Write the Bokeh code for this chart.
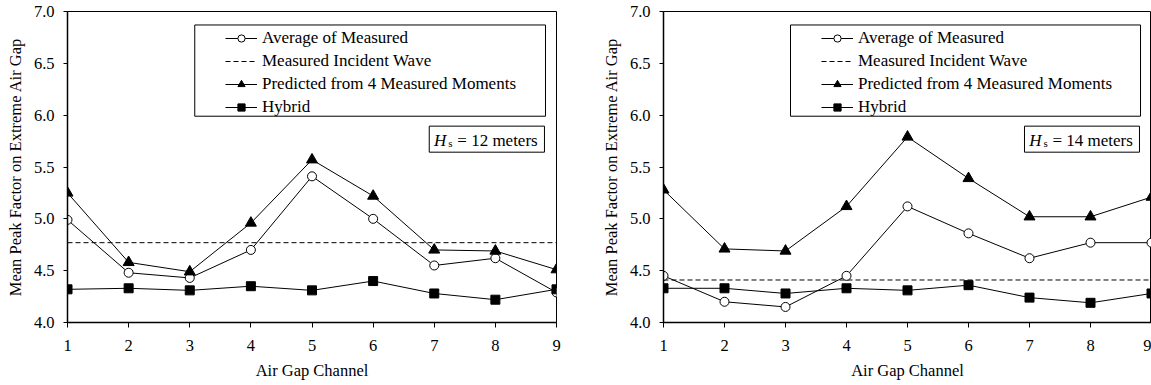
from bokeh.plotting import figure
from bokeh.layouts import row
from bokeh.models import (Legend, LegendItem, BoxAnnotation, Label, FixedTicker,
                          NumeralTickFormatter, Range1d)
from bokeh.embed import file_html
from bokeh.resources import INLINE

channels = [1, 2, 3, 4, 5, 6, 7, 8, 9]
y_ticks = [4.0, 4.5, 5.0, 5.5, 6.0, 6.5, 7.0]

avg_12 = [4.99, 4.48, 4.43, 4.70, 5.41, 5.00, 4.55, 4.62, 4.29]
pred_12 = [5.25, 4.58, 4.49, 4.96, 5.57, 5.22, 4.70, 4.69, 4.51]
hybrid_12 = [4.32, 4.33, 4.31, 4.35, 4.31, 4.40, 4.28, 4.22, 4.32]
incident_12 = 4.77

avg_14 = [4.45, 4.20, 4.15, 4.45, 5.12, 4.86, 4.62, 4.77, 4.77]
pred_14 = [5.28, 4.71, 4.69, 5.12, 5.79, 5.39, 5.02, 5.02, 5.21]
hybrid_14 = [4.33, 4.33, 4.28, 4.33, 4.31, 4.36, 4.24, 4.19, 4.28]
incident_14 = 4.41

labels = ["Average of Measured", "Measured Incident Wave",
          "Predicted from 4 Measured Moments", "Hybrid"]

FONT = "Liberation Serif"
FS = "16.5px"
LFS = "17px"


def panel(avg, pred, hyb, inc, hs_value, width, bl, br):
    p = figure(width=width, height=385, output_backend="svg", toolbar_location=None,
               x_range=Range1d(1, 9), y_range=Range1d(4, 7),
               min_border_left=bl, min_border_right=br, min_border_top=11,
               min_border_bottom=63)
    p.grid.visible = False
    p.outline_line_color = "black"
    p.outline_line_width = 1
    p.outline_line_alpha = 1
    p.background_fill_color = "white"
    p.border_fill_color = "white"

    p.xaxis.ticker = FixedTicker(ticks=channels)
    p.yaxis.ticker = FixedTicker(ticks=y_ticks)
    p.yaxis.formatter = NumeralTickFormatter(format="0.0")
    for ax in (p.xaxis[0], p.yaxis[0]):
        ax.axis_line_color = "black"
        ax.axis_line_width = 1.5
        ax.major_tick_line_color = "black"
        ax.major_tick_line_width = 1
        ax.major_tick_in = 0
        ax.minor_tick_line_color = None
        ax.major_label_text_font = FONT
        ax.major_label_text_font_size = FS
        ax.major_label_text_color = "black"
        ax.axis_label_text_font = FONT
        ax.axis_label_text_font_size = FS
        ax.axis_label_text_font_style = "normal"
        ax.axis_label_text_color = "black"
    p.xaxis.major_tick_out = 5
    p.yaxis.major_tick_out = 4
    p.xaxis.major_label_standoff = 12
    p.yaxis.major_label_standoff = 9
    p.xaxis.axis_label = "Air Gap Channel"
    p.yaxis.axis_label = "Mean Peak Factor on Extreme Air Gap"
    p.xaxis.axis_label_standoff = 7
    p.yaxis.axis_label_standoff = 6

    inc_x = [channels[0], channels[-1]]
    inc_y = [inc, inc]
    r_inc = p.line(inc_x, inc_y, line_color="black", line_width=1, line_dash="5 3")

    l_avg = p.line(channels, avg, line_color="black", line_width=1)
    s_avg = p.scatter(channels, avg, marker="circle", size=9, fill_color="white",
                      line_color="black", line_width=1)
    l_pred = p.line(channels, pred, line_color="black", line_width=1)
    s_pred = p.scatter(channels, pred, marker="triangle", size=11, fill_color="black",
                       line_color="black")
    l_hyb = p.line(channels, hyb, line_color="black", line_width=1)
    s_hyb = p.scatter(channels, hyb, marker="square", size=9, fill_color="black",
                      line_color="black")

    # legend frame
    p.add_layout(BoxAnnotation(left=3.082, right=8.82, top=6.87, bottom=5.99,
                               fill_color="white", fill_alpha=1,
                               line_color="black", line_alpha=1, line_width=1,
                               level="annotation"))
    legend = Legend(items=[
        LegendItem(label=labels[0], renderers=[l_avg, s_avg]),
        LegendItem(label=labels[1], renderers=[r_inc]),
        LegendItem(label=labels[2], renderers=[l_pred, s_pred]),
        LegendItem(label=labels[3], renderers=[l_hyb, s_hyb]),
    ], location=(158, 205), padding=0, spacing=3, glyph_width=32, glyph_height=18,
        label_standoff=5, label_text_font=FONT, label_text_font_size=LFS,
        label_text_color="black", label_height=18,
        border_line_alpha=0, background_fill_alpha=0)
    p.add_layout(legend, "center")

    # Hs box
    p.add_layout(BoxAnnotation(left=6.918, right=8.803, top=5.894, bottom=5.643,
                               fill_color="white", fill_alpha=1,
                               line_color="black", line_alpha=1, line_width=1,
                               level="annotation"))
    p.add_layout(Label(x=6.995, y=5.76, text="H", text_font=FONT, text_font_size=LFS,
                       text_font_style="italic", text_baseline="alphabetic",
                       text_color="black"))
    p.add_layout(Label(x=7.23, y=5.735, text="s", text_font=FONT, text_font_size="11px",
                       text_baseline="alphabetic", text_color="black"))
    p.add_layout(Label(x=7.377, y=5.76, text="= %d meters" % hs_value, text_font=FONT,
                       text_font_size=LFS, text_baseline="alphabetic", text_color="black"))
    return p


p1 = panel(avg_12, pred_12, hybrid_12, incident_12, 12, 568, 67, 12)
p2 = panel(avg_14, pred_14, hybrid_14, incident_14, 14, 583, 95, 0)

layout = row(p1, p2)
open("out.html", "w").write(file_html(layout, INLINE))
